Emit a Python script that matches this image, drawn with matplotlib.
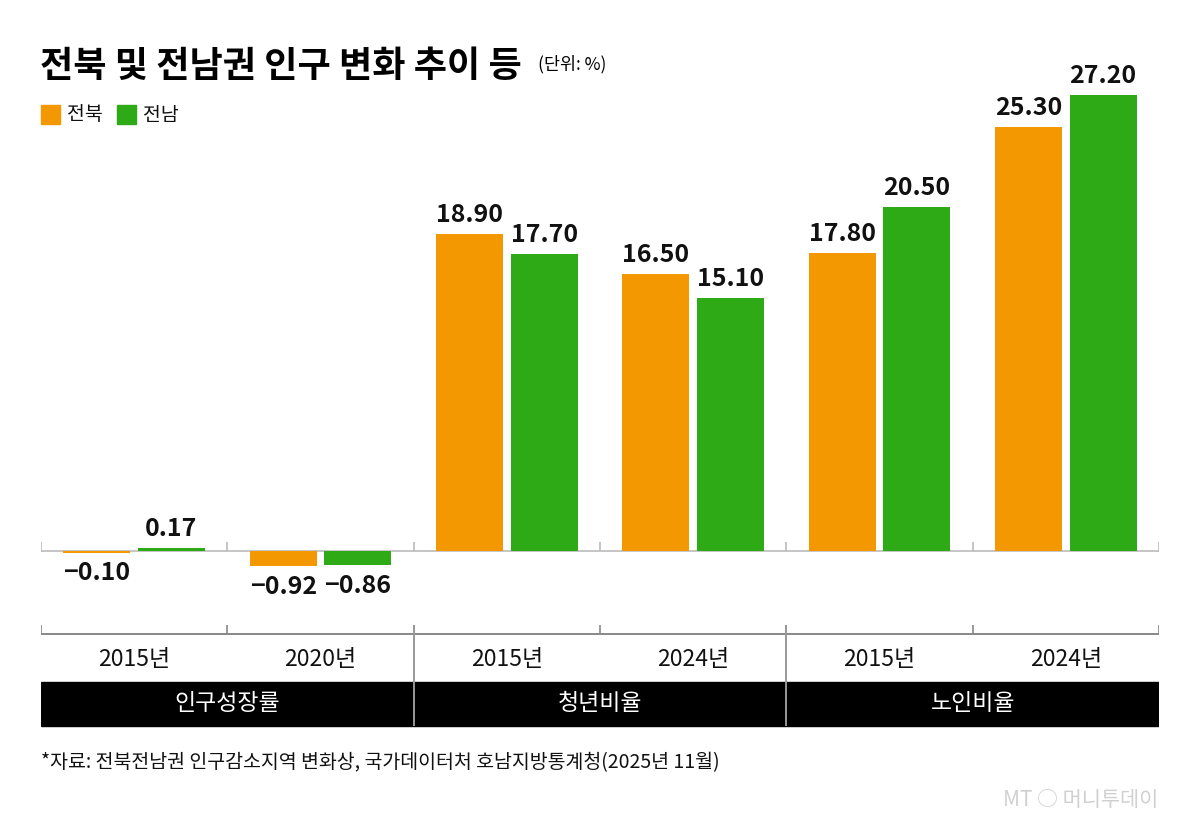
import matplotlib
matplotlib.use("Agg")
import matplotlib.pyplot as plt
from matplotlib.patches import Rectangle

plt.rcParams['font.family'] = ['Noto Sans CJK KR', 'DejaVu Sans']

# ---- data ----
year_labels = ['2015년', '2020년', '2015년', '2024년', '2015년', '2024년']
categories = ['인구성장률', '청년비율', '노인비율']
series_names = ['전북', '전남']
jeonbuk = [-0.10, -0.92, 18.90, 16.50, 17.80, 25.30]
jeonnam = [0.17, -0.86, 17.70, 15.10, 20.50, 27.20]
colors = ['#F39800', '#2DAA16']

W, H = 1200, 824
fig = plt.figure(figsize=(W / 100, H / 100), dpi=100)
fig.patch.set_facecolor('white')

def fx(px):
    return px / W

def fy(py):
    return 1 - py / H

# main bar axes: pixel x 41..1159, y 80..600, zero at 551
px_per_unit = (551 - 95) / 27.2
top_px, bot_px = 80, 600
ymax = (551 - top_px) / px_per_unit
ymin = -(bot_px - 551) / px_per_unit
ax = fig.add_axes([fx(41), fy(bot_px), fx(1159) - fx(41), fy(top_px) - fy(bot_px)])
ax.set_xlim(0, 6)
ax.set_ylim(ymin, ymax)
ax.axis('off')

n = len(year_labels)
xs = list(range(n))
bw = 0.36
for k, (vals, c, off) in enumerate([(jeonbuk, colors[0], 0.30), (jeonnam, colors[1], 0.70)]):
    pos = [x + off for x in xs]
    ax.bar(pos, vals, width=bw, color=c, zorder=2)
    for p, v in zip(pos, vals):
        txt = f"{v:.2f}".replace('-', '\u2212')
        if v >= 0:
            ax.annotate(txt, (p, v), xytext=(0, 5), textcoords='offset points',
                        ha='center', va='bottom', fontsize=18, fontweight='bold', color='#111111')
        else:
            ax.annotate(txt, (p, v), xytext=(0, -6), textcoords='offset points',
                        ha='center', va='top', fontsize=18, fontweight='bold', color='#111111')

ax.axhline(0, color='#bbbbbb', lw=1.2, zorder=1)
tick_h = 9 / px_per_unit
ax.vlines(range(n + 1), 0, tick_h, color='#bbbbbb', lw=1.2)

# lower category axes in pixel coordinates
ax2 = fig.add_axes([fx(41), fy(728), fx(1159) - fx(41), fy(622) - fy(728)])
ax2.set_xlim(0, 6)
ax2.set_ylim(728, 622)
ax2.axis('off')
ax2.hlines(634, 0, 6, color='#888888', lw=1.4)
ax2.vlines(range(n + 1), 625, 634, color='#888888', lw=1.2)
ax2.add_patch(Rectangle((0, 682), 6, 44, color='black', zorder=1))
for b in [2, 4]:
    ax2.vlines(b, 625, 726, color='#999999', lw=1.4, zorder=3)
for i, lab in enumerate(year_labels):
    ax2.text(i + 0.5, 659, lab, ha='center', va='center', fontsize=16.5, color='#111111')
for j, cat in enumerate(categories):
    ax2.text(2 * j + 1, 703, cat, ha='center', va='center', fontsize=16.5, color='white', zorder=4)

# title
fig.text(fx(40), fy(66), '전북 및 전남권 인구 변화 추이 등', fontsize=26, fontweight='heavy',
         ha='left', va='center', color='black')
fig.text(fx(538), fy(64), '(단위: %)', fontsize=12.5, ha='left', va='center', color='black')

# legend
for nm, c, x0 in zip(series_names, colors, [41, 117]):
    fig.patches.append(Rectangle((fx(x0), fy(124)), fx(19), fy(105) - fy(124),
                                 transform=fig.transFigure, color=c))
    fig.text(fx(x0 + 26), fy(115), nm, fontsize=14, ha='left', va='center', color='#111111')

# footnote
fig.text(fx(41), fy(763), '*자료: 전북전남권 인구감소지역 변화상, 국가데이터처 호남지방통계청(2025년 11월)',
         fontsize=14, ha='left', va='center', color='#111111')

# watermark
fig.text(fx(1158), fy(800), 'MT \u25CB 머니투데이', fontsize=15, ha='right', va='center',
         color='#d0d0d0')

fig.savefig('out.png', dpi=100)
